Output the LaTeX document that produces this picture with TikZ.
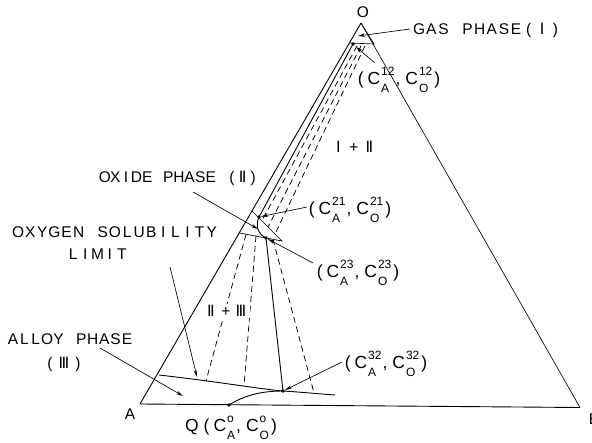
\documentclass[tikz,border=0pt]{standalone}
\usepackage{fontspec}
\setmainfont{Liberation Sans}
\newfontfamily\rom{DejaVu Sans}
\usetikzlibrary{arrows.meta}
\newcommand\lbl{\fontsize{15.5}{17}\selectfont}
\newcommand\clbl{\fontsize{17.5}{19}\selectfont}
\newcommand\scs{\fontsize{12}{12}\selectfont}
\newlength\cwid
\newlength\cpitch
\def\pitchloop#1{\ifx\relax#1\else\makebox[\cpitch][c]{#1}\expandafter\pitchloop\fi}
\newcommand\pitched[2]{\setlength\cpitch{#1}\pitchloop#2\relax}
\newcommand\Conc[2]{C\kern1pt\sbox0{\scs#1}\sbox2{\scs#2}%
  \ifdim\wd0>\wd2 \setlength\cwid{\wd0}\else\setlength\cwid{\wd2}\fi
  \makebox[\cwid][l]{\rlap{\raisebox{0.95ex}{\usebox0}}\raisebox{-0.85ex}{\usebox2}}}
\newcommand\pair[1]{(\hspace{4pt}\Conc{#1}{A}\hspace{1pt},\hspace{5pt}\Conc{#1}{O}\hspace{2pt})}
\begin{document}
\begin{tikzpicture}[x=1pt,y=-1pt,
  ln/.style={line width=0.9pt},
  thin/.style={line width=0.65pt},
  dsh/.style={line width=0.75pt,dash pattern=on 6pt off 4pt},
  arr/.style={line width=0.65pt,-{Stealth[length=7pt,width=3.4pt]}},
  dot/.style={circle,fill=black,inner sep=0pt,minimum size=3.8pt},
  txt/.style={inner sep=0pt,font=\lbl},
  ctxt/.style={inner sep=0pt,font=\clbl}]
\useasboundingbox (0,0) rectangle (592,443);
% main vertices
\coordinate (O) at (361,23);
\coordinate (A) at (140,404);
\coordinate (B) at (580,407.5);
\draw[ln] (A) -- (O);
\draw[thin] (O) -- (B);
\draw[ln] (B) -- (A);
% gas phase triangle
\coordinate (GL) at (349.5,43);
\coordinate (GR) at (374,44);
\draw[thin] (GL) -- (GR) -- (O);
% oxide triangle
\coordinate (OT) at (252,211);
\coordinate (OL) at (239.5,233);
\coordinate (OR) at (282,241);
\draw[thin] (OT) -- (OR) -- (OL);
% special points
\node[dot] (C12) at (353,44) {};
\node[dot] (C21) at (259,217) {};
\node[dot] (C23) at (266,238) {};
\node[dot] (C32) at (283,391) {};
\node[dot] (Q) at (229,405) {};
% alloy boundary
\coordinate (S0) at (159,375);
\coordinate (S2) at (335,395);
\draw[ln] (S0) .. controls (220,382) and (260,389) .. (C32.center) .. controls (300,392) and (320,394) .. (S2);
% diffusion path
\draw[ln] (C12.center) -- (C21.center);
\draw[ln] (C21.center) .. controls (255,226) and (258,234) .. (C23.center);
\draw[ln] (C23.center) -- (C32.center);
\draw[ln] (Q.center) .. controls (245,395) and (262,391) .. (C32.center);
% tie lines I+II
\coordinate (g1) at (357,46);
\coordinate (g2) at (361,46);
\coordinate (g3) at (365,46);
\coordinate (p1) at (262,220.5);
\coordinate (p2) at (268,227);
\coordinate (p3) at (275,234);
\draw[dsh] (g1) -- (p1);
\draw[dsh] (g2) -- (p2);
\draw[dsh] (g3) -- (p3);
% tie lines II+III
\coordinate (q1) at (246,234.5);
\coordinate (q2) at (256,236);
\coordinate (q3) at (273,239.5);
\coordinate (r1) at (206,381);
\coordinate (r2) at (244,386);
\coordinate (r3) at (314,393);
\draw[dsh] (q1) -- (r1);
\draw[dsh] (q2) -- (r2);
\draw[dsh] (q3) -- (r3);
% labels
\node[txt] (tO) at (363,12) {O};
\node[txt,anchor=west] (tgas) at (413,30) {\pitched{12.1pt}{GAS~PHASE}\pitched{13.3pt}{({\rom Ⅰ})}};
\node[ctxt] (t12) at (399,80) {\pair{12}};
\node[txt] (t1p2) at (354,147) {\pitched{15.5pt}{{\rom Ⅰ}+{\rom Ⅱ}}};
\node[txt] (tox) at (179,178) {\pitched{10.6pt}{OXIDE~PHASE~({\rom Ⅱ})}};
\node[ctxt] (t21) at (350,210) {\pair{21}};
\node[txt] (tsol) at (115,232) {\pitched{12.1pt}{OXYGEN~SOLUBILITY}};
\node[txt] (tlim) at (97.5,254) {\pitched{12.2pt}{LIMIT}};
\node[ctxt] (t23) at (358,273) {\pair{23}};
\node[txt,fill=white,inner sep=1pt] (t2p3) at (226,311) {\pitched{15pt}{{\rom Ⅱ}+{\rom Ⅲ}}};
\node[txt] (tall) at (70,339) {\pitched{11.4pt}{ALLOY~PHASE}};
\node[txt] (tall3) at (64,364) {\pitched{14pt}{({\rom Ⅲ})}};
\node[ctxt] (t32) at (386,364) {\pair{32}};
\node[txt] (tA) at (130,414) {A};
\node[ctxt] (tQ) at (231,428) {Q\hspace{5pt}\pair{o}};
\node[txt] (tB) at (594,419) {B};
% leaders
\coordinate (lg) at (410,29);
\draw[arr] (lg) -- (358,36);
\coordinate (l12) at (375,63);
\draw[arr] (l12) -- (356,47);
\coordinate (lox) at (193,192);
\draw[arr] (lox) -- (258,229);
\coordinate (l21) at (307,207);
\draw[arr] (l21) -- (C21);
\coordinate (l23) at (313,263);
\draw[arr] (l23) -- (C23);
\coordinate (lsol) at (170,267);
\draw[arr] (lsol) -- (197,377);
\coordinate (lal) at (100,348);
\draw[arr] (lal) -- (183,396);
\coordinate (l32) at (342,362);
\draw[arr] (l32) -- (C32);
\end{tikzpicture}
\end{document}
